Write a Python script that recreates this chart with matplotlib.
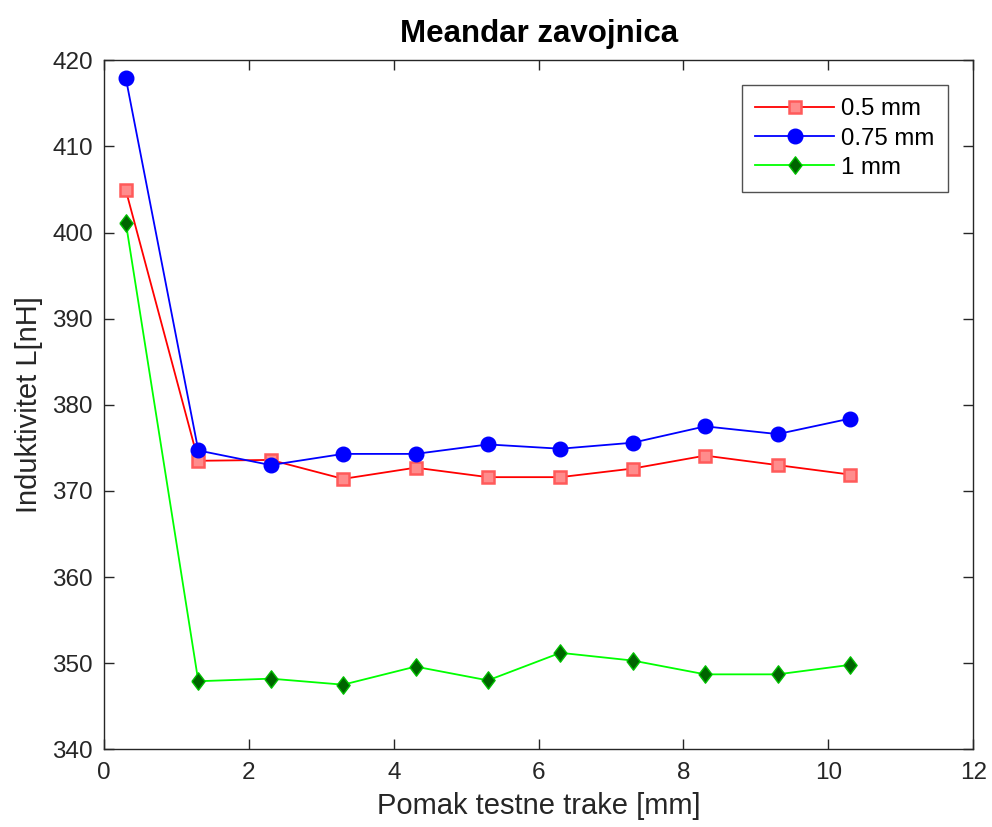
import matplotlib
matplotlib.use("Agg")
import matplotlib.pyplot as plt

x = [0.3, 1.3, 2.3, 3.3, 4.3, 5.3, 6.3, 7.3, 8.3, 9.3, 10.3]
red_05 = [404.9, 373.5, 373.6, 371.4, 372.7, 371.6, 371.6, 372.6, 374.1, 373.0, 371.9]
blue_075 = [417.9, 374.7, 373.0, 374.3, 374.3, 375.4, 374.9, 375.6, 377.5, 376.6, 378.4]
green_1 = [401.1, 347.9, 348.2, 347.5, 349.6, 348.0, 351.2, 350.3, 348.7, 348.7, 349.8]
labels = ["0.5 mm", "0.75 mm", "1 mm"]
xticks = [0, 2, 4, 6, 8, 10, 12]
yticks = [340, 350, 360, 370, 380, 390, 400, 410, 420]

plt.rcParams['font.family'] = ['Liberation Sans', 'DejaVu Sans']
fig = plt.figure(figsize=(9.92, 8.27), dpi=100)
ax = fig.add_axes([0.105, 0.094, 0.876, 0.833])

diamond = [(-0.38, 0), (0, 0.5), (0.38, 0), (0, -0.5), (-0.38, 0)]

ax.plot(x, red_05, color='#ff0000', lw=1.3, marker='s', ms=8.5,
        mfc='#ff8c8c', mec='#ff5a5a', mew=1.8, label=labels[0])
ax.plot(x, blue_075, color='#0000ff', lw=1.3, marker='o', ms=10.5,
        mfc='#0000ff', mec='#0000ff', label=labels[1])
ax.plot(x, green_1, color='#00ff00', lw=1.3, marker=diamond, ms=12.5,
        mfc='#006400', mec='#00c000', mew=1.0, label=labels[2])

ax.set_xlim(0, 12)
ax.set_ylim(340, 420)
ax.set_xticks(xticks)
ax.set_yticks(yticks)
ax.tick_params(direction='in', top=True, right=True, length=7, width=1,
               labelsize=17.5, colors='#262626', pad=8)
ax.tick_params(axis='x', pad=9)
for s in ax.spines.values():
    s.set_color('#262626')
    s.set_linewidth(1)

ax.set_title("Meandar zavojnica", fontsize=22.5, fontweight='bold', pad=13)
ax.set_xlabel("Pomak testne trake [mm]", fontsize=21, color='#262626', labelpad=6)
ax.set_ylabel("Induktivitet L[nH]", fontsize=21, color='#262626', labelpad=7)

leg = ax.legend(loc='upper right', bbox_to_anchor=(0.971, 0.964), fontsize=17.3,
                frameon=True, fancybox=False, edgecolor='#262626',
                handlelength=3.3, handletextpad=0.3, borderpad=0.55,
                labelspacing=0.3, borderaxespad=0)
leg.get_frame().set_linewidth(1)

fig.savefig("out.png", dpi=100, facecolor='white')
